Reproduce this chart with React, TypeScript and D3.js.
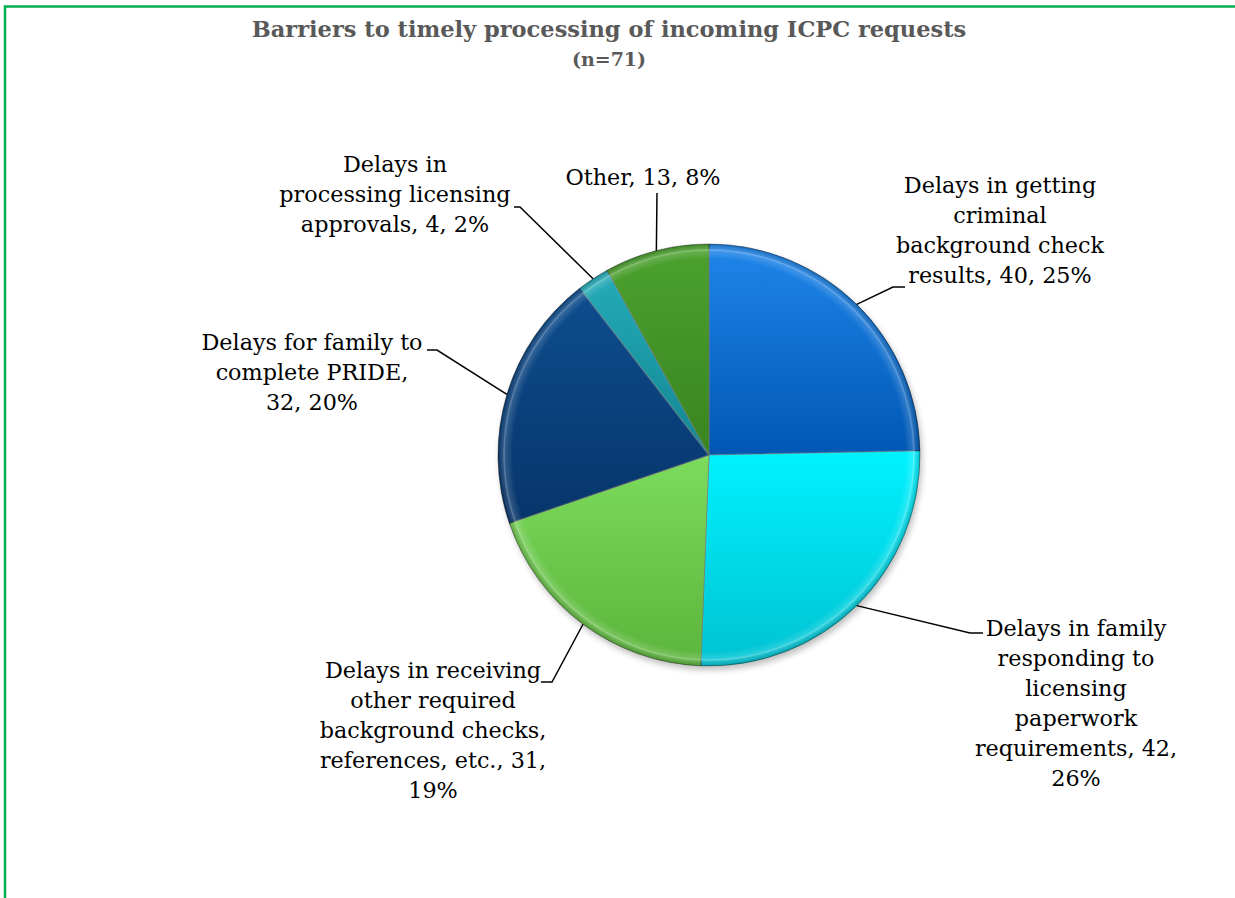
import React from "react";
import * as d3 from "d3";

const categories = [
  "Delays in getting criminal background check results",
  "Delays in family responding to licensing paperwork requirements",
  "Delays in receiving other required background checks, references, etc.",
  "Delays for family to complete PRIDE",
  "Delays in processing licensing approvals",
  "Other",
];
const values = [40, 42, 31, 32, 4, 13];
const percents = ["25%", "26%", "19%", "20%", "2%", "8%"];
const labelLines = [
  ["Delays in getting", "criminal", "background check", "results, 40, 25%"],
  ["Delays in family", "responding to", "licensing", "paperwork", "requirements, 42,", "26%"],
  ["Delays in receiving", "other required", "background checks,", "references, etc., 31,", "19%"],
  ["Delays for family to", "complete PRIDE,", "32, 20%"],
  ["Delays in", "processing licensing", "approvals, 4, 2%"],
  ["Other, 13, 8%"],
];
const title = "Barriers to timely processing of incoming ICPC requests";
const subtitle = "(n=71)";

// styles / layout
const colorsTop = ["#1f86ea", "#00f2ff", "#7cdb5c", "#0e4d8f", "#25abb8", "#4ca22e"];
const colorsBot = ["#0057b3", "#00c2d2", "#5bb43b", "#07356a", "#128692", "#398420"];
// label block center x, first baseline y, and leader elbow (x,y) + horizontal end x
const labelLayout = [
  { cx: 1000, y: 193, ex: 893, ey: 287, hx: 905 },
  { cx: 1076, y: 636, ex: 970, ey: 633, hx: 983 },
  { cx: 433, y: 678, ex: 552, ey: 682, hx: 541 },
  { cx: 312, y: 350, ex: 437, ey: 350, hx: 427 },
  { cx: 395, y: 172, ex: 520, ey: 207, hx: 514 },
  { cx: 643, y: 185, ex: 657, ey: 193, hx: 657 },
];

const W = 1235;
const H = 898;
const cx = 709;
const cy = 455;
const R = 211;
const lineH = 30;

export default function App() {
  const data = categories.map((c, i) => ({ c, v: values[i], p: percents[i], i }));
  const pie = d3.pie<any>().value((d) => d.v).sort(null).startAngle(0).endAngle(Math.PI * 2);
  const arcs = pie(data);
  const arc = d3.arc<any>().innerRadius(0).outerRadius(R);
  const innerArc = d3.arc<any>().innerRadius(0).outerRadius(R - 6);
  const font = "'DejaVu Serif', serif";

  return (
    <svg
      width={W}
      height={H}
      style={{ position: "absolute", left: 0, top: 0, background: "#fff" }}
      xmlns="http://www.w3.org/2000/svg"
    >
      <defs>
        {arcs.map((a, i) => (
          <linearGradient key={i} id={`g${i}`} x1="0" y1="0" x2="0" y2="1">
            <stop offset="0%" stopColor={colorsTop[i]} />
            <stop offset="100%" stopColor={colorsBot[i]} />
          </linearGradient>
        ))}
        <radialGradient id="shine" cx="0.5" cy="0.5" r="0.5">
          <stop offset="0%" stopColor="#fff" stopOpacity={0} />
          <stop offset="93%" stopColor="#fff" stopOpacity={0} />
          <stop offset="97%" stopColor="#fff" stopOpacity={0.18} />
          <stop offset="100%" stopColor="#000" stopOpacity={0.2} />
        </radialGradient>
        <filter id="shadow" x="-20%" y="-20%" width="140%" height="140%">
          <feGaussianBlur stdDeviation="3" />
        </filter>
      </defs>
      <rect x={5} y={6.5} width={W + 10} height={H + 10} fill="none" stroke="#00b050" strokeWidth={2.5} />
      <text x={609} y={37} textAnchor="middle" fontFamily={font} fontWeight="bold" fontSize={22.5} fill="#595959">
        {title}
      </text>
      <text x={609} y={66} textAnchor="middle" fontFamily={font} fontWeight="bold" fontSize={19} fill="#595959">
        {subtitle}
      </text>
      <g transform={`translate(${cx},${cy})`}>
        <circle cx={2} cy={4} r={R} fill="#000" opacity={0.25} filter="url(#shadow)" />
        {arcs.map((a, i) => (
          <g key={i}>
            <path d={arc(a) || ""} fill={`url(#g${i})`} stroke="rgba(0,0,0,0.35)" strokeWidth={1} />
            <path d={innerArc(a) || ""} fill="none" stroke="rgba(255,255,255,0.18)" strokeWidth={1.5} />
          </g>
        ))}
        <circle r={R} fill="url(#shine)" />
      </g>
      {arcs.map((a, i) => {
        const mid = (a.startAngle + a.endAngle) / 2;
        const px = cx + Math.sin(mid) * R;
        const py = cy - Math.cos(mid) * R;
        const L = labelLayout[i];
        return (
          <polyline
            key={i}
            points={`${px},${py} ${L.ex},${L.ey} ${L.hx},${L.ey}`}
            fill="none"
            stroke="#000"
            strokeWidth={1.5}
          />
        );
      })}
      {labelLines.map((lines, i) => {
        const L = labelLayout[i];
        return (
          <text key={i} textAnchor="middle" fontFamily={font} fontSize={22.3} fill="#000">
            {lines.map((t, j) => (
              <tspan key={j} x={L.cx} y={L.y + j * lineH}>
                {t}
              </tspan>
            ))}
          </text>
        );
      })}
    </svg>
  );
}
